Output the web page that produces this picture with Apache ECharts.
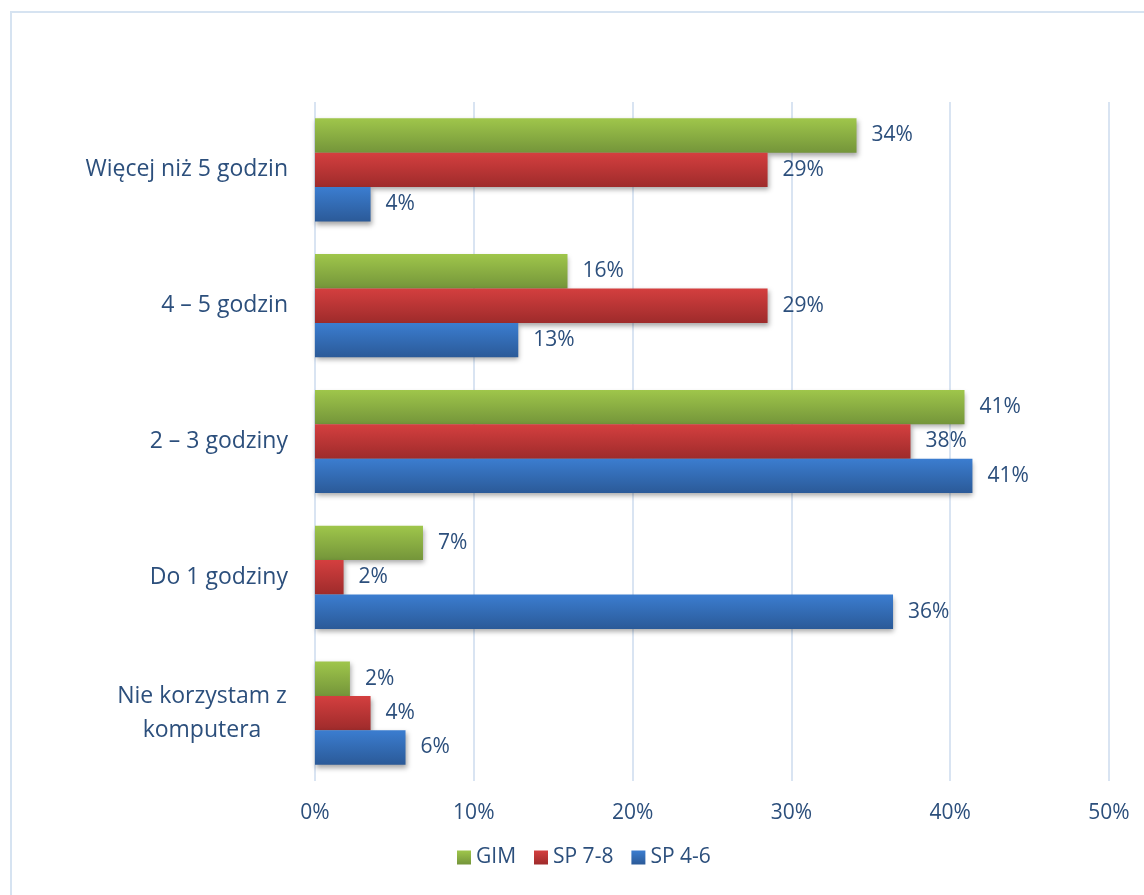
<!DOCTYPE html>
<html>
<head>
<meta charset="utf-8">
<script src="https://cdn.jsdelivr.net/npm/echarts@6/dist/echarts.min.js"></script>
<style>
  html, body { margin: 0; padding: 0; background: #fff; }
  #main { width: 1144px; height: 895px; }
</style>
</head>
<body>
<!-- wykres czasu przy komputerze -->
<div id="main"></div>
<script>
// kategorie od dołu do góry
var categories = ['Nie korzystam z\nkomputera', 'Do 1 godziny', '2 – 3 godziny', '4 – 5 godzin', 'Więcej niż 5 godzin']
var gim = [2.2, 6.8, 40.9, 15.9, 34.1]
var sp78 = [3.5, 1.8, 37.5, 28.5, 28.5]
var sp46 = [5.7, 36.4, 41.4, 12.8, 3.5]
var tickLabels = ['0%', '10%', '20%', '30%', '40%', '50%']

var textColor = '#2c4f7c'
var font = 'Open Sans'

function grad(top, bottom) {
  return new echarts.graphic.LinearGradient(0, 0, 0, 1, [
    { offset: 0, color: top },
    { offset: 1, color: bottom }
  ])
}

function makeSeries(name, data, top, bottom) {
  return {
    name: name,
    type: 'bar',
    data: data,
    barGap: '0%',
    barCategoryGap: '24%',
    itemStyle: {
      color: grad(top, bottom),
      shadowColor: 'rgba(0,0,0,0.35)',
      shadowBlur: 5,
      shadowOffsetX: 1,
      shadowOffsetY: 3
    },
    label: {
      show: true,
      position: 'right',
      distance: 15,
      color: textColor,
      fontSize: 21,
      fontFamily: font,
      formatter: function (p) { return Math.round(p.value) + '%' }
    }
  }
}

var myChart = echarts.init(document.getElementById('main'))

var option = {
  animation: false,
  graphic: [
    {
      type: 'rect',
      shape: { x: 11, y: 12, width: 1150, height: 900 },
      style: { fill: 'none', stroke: '#d6e3f1', lineWidth: 2 },
      silent: true
    }
  ],
  legend: {
    data: ['GIM', 'SP 7-8', 'SP 4-6'],
    left: 452,
    top: 842,
    icon: 'rect',
    itemWidth: 14,
    itemHeight: 14,
    itemGap: 18,
    textStyle: { color: textColor, fontSize: 21, fontFamily: font }
  },
  grid: {
    left: 315,
    right: 35,
    top: 102,
    bottom: 114
  },
  xAxis: {
    type: 'value',
    min: 0,
    max: 50,
    interval: 10,
    axisLine: { show: false },
    axisTick: { show: false },
    splitLine: { lineStyle: { color: '#d9e4f2', width: 2 } },
    axisLabel: {
      color: textColor,
      fontSize: 21,
      fontFamily: font,
      margin: 22,
      formatter: function (v) { return tickLabels[v / 10] }
    }
  },
  yAxis: {
    type: 'category',
    data: categories,
    axisLine: { show: false },
    axisTick: { show: false },
    axisLabel: {
      color: textColor,
      fontSize: 23,
      fontFamily: font,
      margin: 27,
      lineHeight: 34,
      formatter: function (v) {
        // dwuwierszowa etykieta wyśrodkowana w bloku
        if (v.indexOf('\n') >= 0) {
          return v.split('\n').map(function (s) { return '{c|' + s + '}' }).join('\n')
        }
        return v
      },
      rich: {
        c: {
          width: 172,
          align: 'center',
          color: textColor,
          fontSize: 23,
          fontFamily: font,
          lineHeight: 34
        }
      }
    }
  },
  series: [
    makeSeries('GIM', gim, '#9fc64b', '#74953a'),
    makeSeries('SP 7-8', sp78, '#d43f3f', '#9e2b2b'),
    makeSeries('SP 4-6', sp46, '#3b7dd0', '#2b5a98')
  ]
}

myChart.setOption(option)
</script>
</body>
</html>
